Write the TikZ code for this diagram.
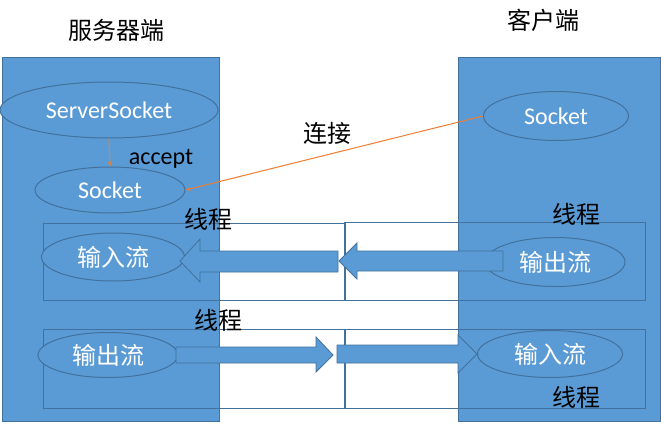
\documentclass[tikz,border=0pt]{standalone}
\usepackage{fontspec}
\setmainfont{Carlito}
\newfontfamily\cjk{Noto Sans CJK SC}
\usetikzlibrary{arrows.meta,shapes.geometric}
\definecolor{fillb}{HTML}{5B9BD5}
\definecolor{edgeb}{HTML}{41719C}
\definecolor{orng}{HTML}{ED7D31}
\begin{document}
\begin{tikzpicture}[x=1pt,y=-1pt,
  panel/.style={draw=edgeb, fill=fillb, line width=0.8pt},
  threadbox/.style={draw=edgeb, line width=0.7pt},
  oval/.style={ellipse, draw=edgeb, fill=fillb, line width=1pt, text=white, inner sep=0pt},
  blockarrow/.style={draw=edgeb, fill=fillb, line width=0.8pt, line join=miter},
  link/.style={draw=orng, line width=1pt, -{Stealth[length=5pt,width=4pt]}},
  lat/.style={font=\fontsize{24}{28}\selectfont},
  zh/.style={font=\cjk\fontsize{24}{28}\selectfont},
  title/.style={zh, text=black, inner sep=0pt}
]
\useasboundingbox (0,0) rectangle (661,423);
\fill[white] (0,0) rectangle (661,423);

% panels
\draw[panel] (2,57) rectangle (219,421);
\draw[panel] (458,57) rectangle (660,421);

% thread boxes
\draw[threadbox] (43,223) rectangle (345,300);
\draw[threadbox] (344,222) rectangle (645,300);
\draw[threadbox] (43,329) rectangle (345,408);
\draw[threadbox] (344,329) rectangle (645,408);

% titles
\node[title] (tsrv) at (116,30) {服务器端};
\node[title] (tcli) at (543,20) {客户端};

% ellipses
\node[oval, lat, minimum width=218, minimum height=56] (ss) at (109,110) {ServerSocket};
\node[oval, lat, minimum width=150, minimum height=46] (s1) at (110,190) {Socket};
\node[oval, lat, minimum width=145, minimum height=49] (s2) at (556,116) {Socket};
\node[oval, zh, minimum width=143, minimum height=48] (in1) at (113,257) {输入流};
\node[oval, zh, minimum width=140, minimum height=49] (out1) at (555,262) {输出流};
\node[oval, zh, minimum width=140, minimum height=45] (out2) at (108,355) {输出流};
\node[oval, zh, minimum width=145, minimum height=47] (in2) at (550,354) {输入流};

% connectors
\draw[link] (ss.south) -- (s1.north);
\draw[link] (s2.west) -- (s1.east);
\node[lat, text=black, inner sep=0pt] (acc) at (161,159) {accept};
\node[zh, text=black, inner sep=0pt] (conn) at (327,133) {连接};

% block arrows
\draw[blockarrow] (503,251) -- (357,251) -- (357,243) -- (339,261) -- (357,279) -- (357,271) -- (503,271) -- cycle;
\draw[blockarrow] (338,251) -- (200,251) -- (200,239) -- (180,261) -- (200,282) -- (200,272) -- (338,272) -- cycle;
\draw[blockarrow] (176,347) -- (316,347) -- (316,337) -- (333,355) -- (316,372) -- (316,363) -- (176,363) -- cycle;
\draw[blockarrow] (337,345) -- (458,345) -- (458,335) -- (477,354) -- (458,373) -- (458,363) -- (337,363) -- cycle;

% thread labels
\node[title] (th1) at (208,219) {线程};
\node[title] (th2) at (576,214) {线程};
\node[title] (th3) at (218,320) {线程};
\node[title] (th4) at (576,397) {线程};
\end{tikzpicture}
\end{document}
